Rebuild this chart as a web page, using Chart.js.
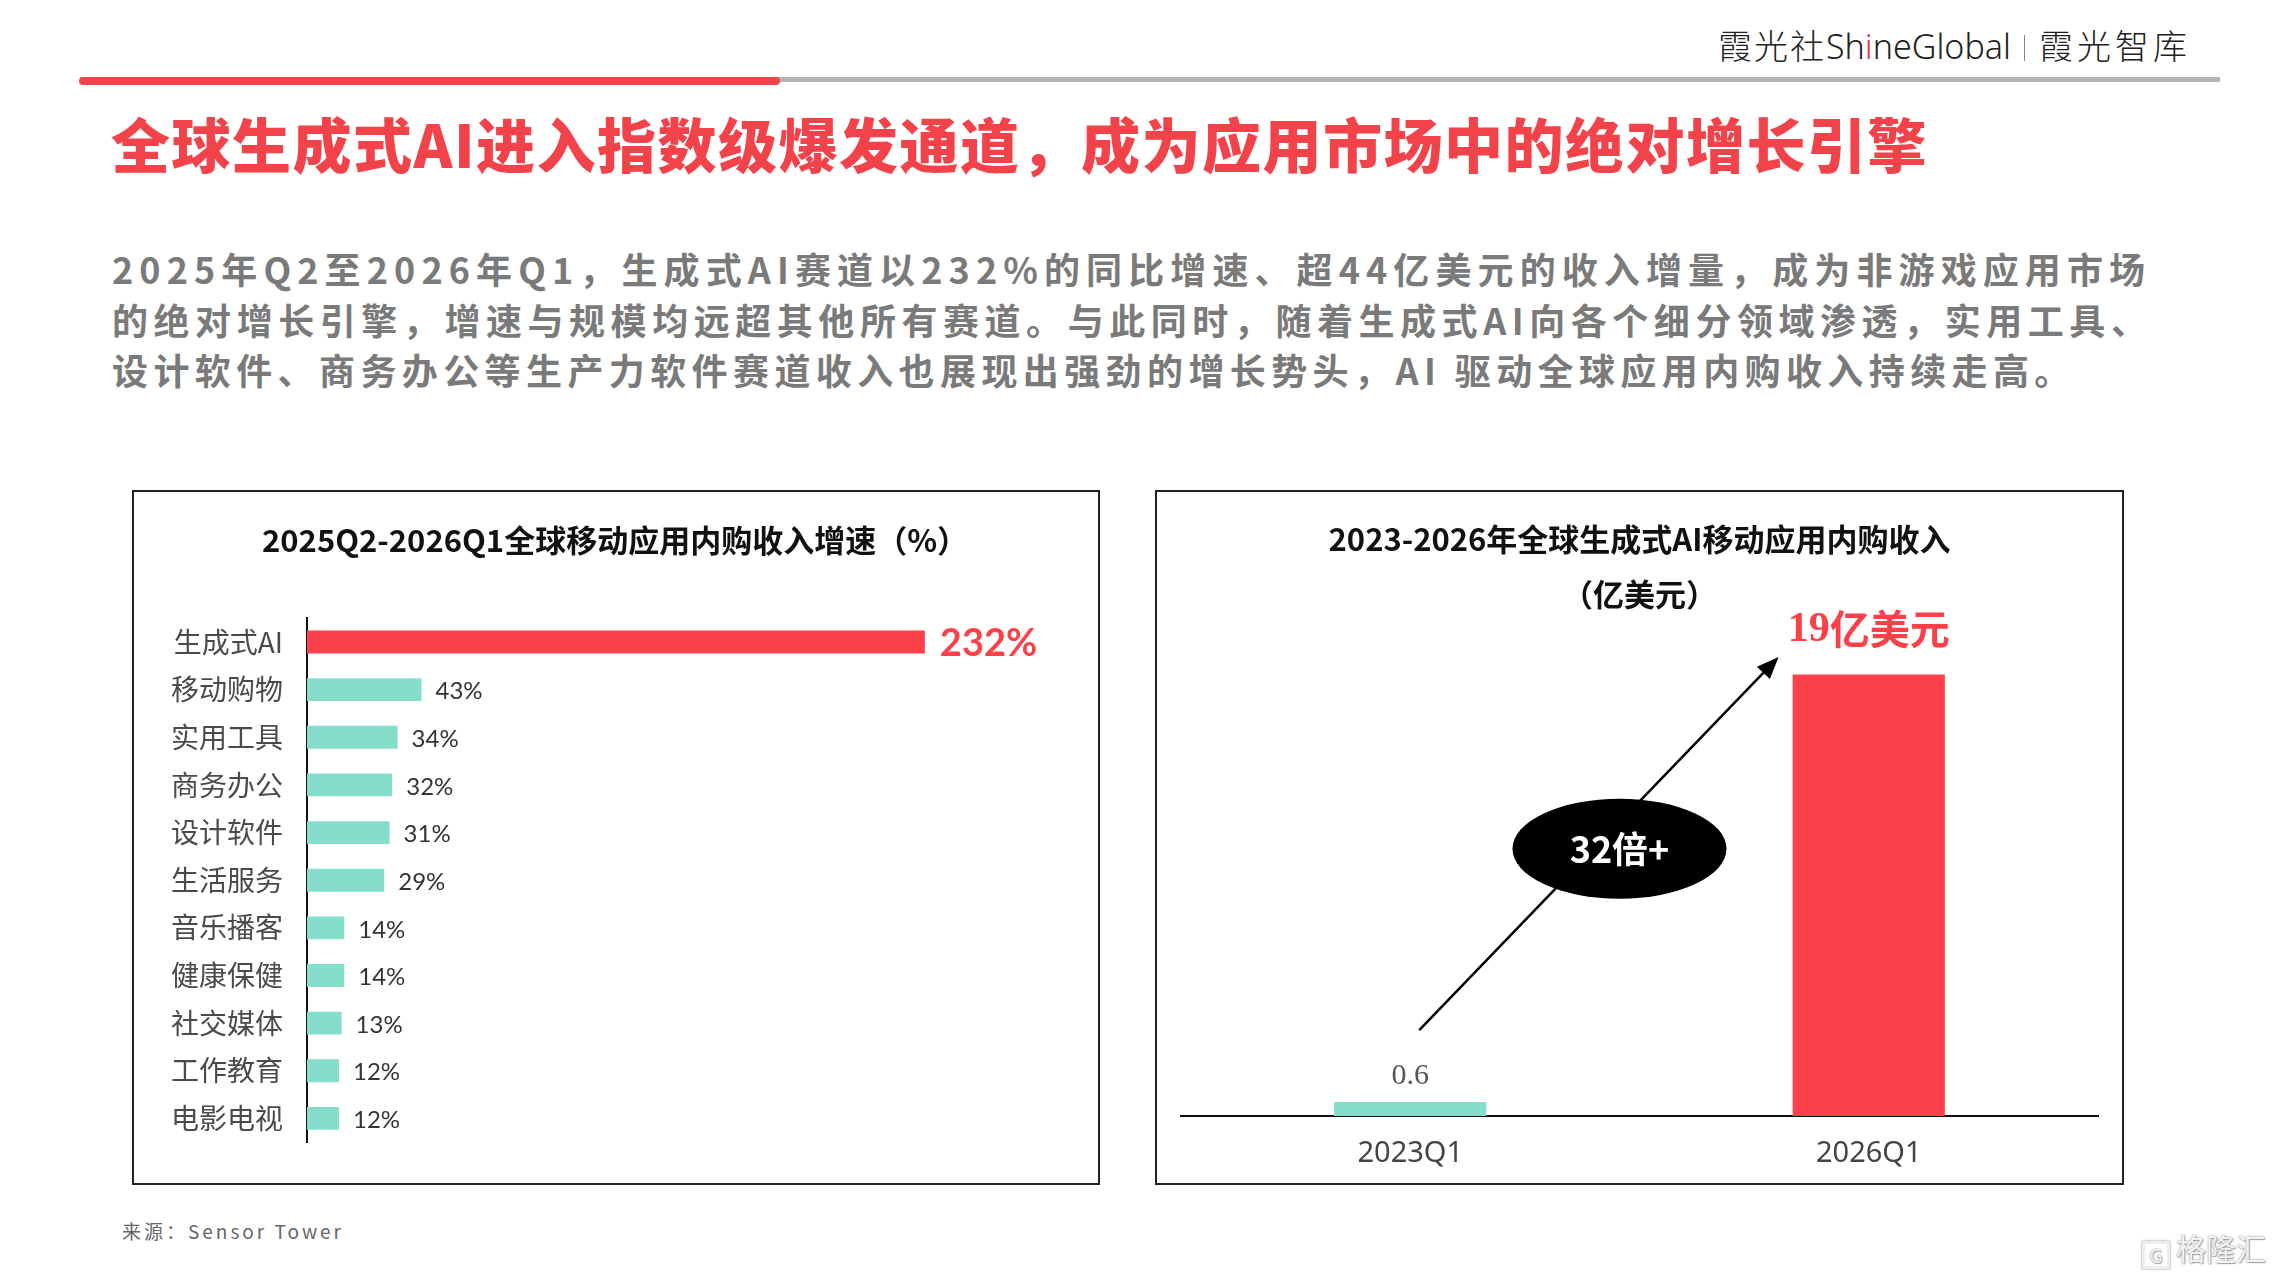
<!DOCTYPE html>
<html>
<head>
<meta charset="utf-8">
<script src="https://cdn.jsdelivr.net/npm/chart.js@4.4.1/dist/chart.umd.min.js"></script>
<style>
  body { margin: 0; background: #fff; }
  #page { position: relative; width: 2275px; height: 1279px; overflow: hidden; background: #fff;
          font-family: 'Noto Sans CJK SC', 'Noto Sans', sans-serif; }
  .abs { position: absolute; white-space: nowrap; line-height: 1; }
  .box { position: absolute; border: 2px solid #222; box-sizing: border-box; }
  .box canvas { display: block; }
</style>
</head>
<body>
<div id="page">
  <!-- header lines -->
  <div class="abs" style="left:80px; top:77px; width:2140px; height:5px; background:#b3b3b3;"></div>
  <div class="abs" style="left:79px; top:77px; width:701px; height:8px; border-radius:4px; background:#f2434a;"></div>

  <div class="abs" style="left:1718px; top:28px; font-size:34px; color:#222; font-weight:300;">
    <span style="letter-spacing:2px;">霞光社</span><span style="font-family:'Noto Sans', sans-serif;">Sh<span style="color:#e8383f;">i</span>neGlobal</span><span style="display:inline-block; width:1px; height:26px; background:#888; margin:0 14px 0 13px; vertical-align:-2px;"></span><span style="letter-spacing:4px;">霞光智库</span>
  </div>

  <div class="abs" style="left:111px; top:113px; font-size:59px; font-weight:900; color:#f2434a; letter-spacing:1.5px;">全球生成式AI进入指数级爆发通道，成为应用市场中的绝对增长引擎</div>

  <div class="abs" style="left:112px; top:250px; font-size:36px; font-weight:bold; color:#7a7a7a; letter-spacing:6.1px;">2025年Q2至2026年Q1，生成式AI赛道以232%的同比增速、超44亿美元的收入增量，成为非游戏应用市场</div>
  <div class="abs" style="left:112px; top:301px; font-size:36px; font-weight:bold; color:#7a7a7a; letter-spacing:5.55px;">的绝对增长引擎，增速与规模均远超其他所有赛道。与此同时，随着生成式AI向各个细分领域渗透，实用工具、</div>
  <div class="abs" style="left:112px; top:351px; font-size:36px; font-weight:bold; color:#7a7a7a; letter-spacing:5.4px;">设计软件、商务办公等生产力软件赛道收入也展现出强劲的增长势头，AI 驱动全球应用内购收入持续走高。</div>

  <div class="box" style="left:132px; top:490px; width:968px; height:695px;">
    <canvas id="growth" width="964" height="691"></canvas>
  </div>
  <div class="box" style="left:1155px; top:490px; width:969px; height:695px;">
    <canvas id="revenue" width="965" height="691"></canvas>
  </div>

  <div class="abs" style="left:122px; top:1221px; font-size:19px; color:#666; letter-spacing:3px;">来源：Sensor Tower</div>

  <div class="abs" style="left:2142px; top:1232px; font-size:30px; color:#f2f2f2; text-shadow:0 0 2px #888, 1px 1px 1px #aaa;">
    <span style="display:inline-block; width:28px; height:28px; border:3px solid #eee; box-shadow:0 0 2px #888; box-sizing:border-box; font-size:19px; text-align:center; line-height:22px; vertical-align:-3px; margin-right:6px;">G</span>格隆汇
  </div>
</div>

<script>
const RED = '#fb4049';
const TEAL = '#85ddcb';
const CJK = "'Noto Sans CJK SC', 'Noto Sans', sans-serif";

// left chart: growth rate by category
const growthCats = ['生成式AI', '移动购物', '实用工具', '商务办公', '设计软件', '生活服务', '音乐播客', '健康保健', '社交媒体', '工作教育', '电影电视'];
const growthVals = [232, 43, 34, 32, 31, 29, 14, 14, 13, 12, 12];
const growthMax = 282;

// right chart: generative AI revenue (亿美元)
const revCats = ['2023Q1', '2026Q1'];
const revVals = [0.6, 19];
const revMax = 21;

const growthLabels = {
  id: 'growthLabels',
  afterDatasetsDraw(chart) {
    const ctx = chart.ctx;
    chart.getDatasetMeta(0).data.forEach((bar, i) => {
      ctx.save();
      ctx.textBaseline = 'middle';
      if (i === 0) {
        ctx.font = "bold 38px Lato, 'Noto Sans', sans-serif";
        ctx.fillStyle = RED;
        ctx.fillText(growthVals[i] + '%', bar.x + 15, bar.y + 2);
      } else {
        ctx.font = "24px Lato, 'Noto Sans', sans-serif";
        ctx.fillStyle = '#333';
        ctx.fillText(growthVals[i] + '%', bar.x + 14, bar.y + 2);
      }
      ctx.restore();
    });
  }
};

new Chart(document.getElementById('growth'), {
  type: 'bar',
  data: {
    labels: growthCats,
    datasets: [{
      data: growthVals,
      backgroundColor: growthVals.map((v, i) => i === 0 ? RED : TEAL),
      barPercentage: 0.48,
      categoryPercentage: 1
    }]
  },
  options: {
    indexAxis: 'y',
    responsive: false,
    animation: false,
    layout: { padding: { left: 38, right: 40, top: 30, bottom: 36 } },
    plugins: {
      legend: { display: false },
      tooltip: { enabled: false },
      title: {
        display: true,
        text: '2025Q2-2026Q1全球移动应用内购收入增速（%）',
        color: '#111',
        font: { family: CJK, size: 31, weight: 'bold' },
        padding: { top: 0, bottom: 59 }
      }
    },
    scales: {
      x: { display: false, min: 0, max: growthMax },
      y: {
        grid: { display: false, drawTicks: false },
        border: { display: true, color: '#111', width: 2 },
        ticks: { color: '#4a4a4a', font: { family: CJK, size: 28 }, padding: 24 },
        afterFit(scale) { scale.width = 135; }
      }
    }
  },
  plugins: [growthLabels]
});

const revenueMarks = {
  id: 'revenueMarks',
  afterDatasetsDraw(chart) {
    const ctx = chart.ctx;
    const bars = chart.getDatasetMeta(0).data;
    const ys = chart.scales.y;
    const b0 = bars[0], b1 = bars[1];
    ctx.save();

    // value labels
    ctx.textAlign = 'center';
    ctx.textBaseline = 'middle';
    ctx.font = "30px 'Liberation Serif', serif";
    ctx.fillStyle = '#555';
    ctx.fillText(String(revVals[0]), b0.x, b0.y - 26);

    const numTxt = String(revVals[1]);
    const unitTxt = '亿美元';
    ctx.font = "bold 42px 'Liberation Serif', serif";
    const w1 = ctx.measureText(numTxt).width;
    ctx.font = 'bold 40px ' + CJK;
    const w2 = ctx.measureText(unitTxt).width;
    let sx = b1.x - (w1 + w2) / 2;
    ctx.textAlign = 'left';
    ctx.fillStyle = RED;
    ctx.font = "bold 42px 'Liberation Serif', serif";
    ctx.fillText(numTxt, sx, b1.y - 44);
    ctx.font = 'bold 40px ' + CJK;
    ctx.fillText(unitTxt, sx + w1, b1.y - 46);

    // arrow
    const x0 = b0.x + 9, y0 = ys.getPixelForValue(3.7);
    const x1 = b1.x - b1.width / 2 - 14, y1 = ys.getPixelForValue(19.75);
    const ang = Math.atan2(y1 - y0, x1 - x0);
    const head = 22;
    ctx.strokeStyle = '#000';
    ctx.lineWidth = 2.5;
    ctx.beginPath();
    ctx.moveTo(x0, y0);
    ctx.lineTo(x1 - Math.cos(ang) * head * 0.8, y1 - Math.sin(ang) * head * 0.8);
    ctx.stroke();
    ctx.fillStyle = '#000';
    ctx.beginPath();
    ctx.moveTo(x1, y1);
    ctx.lineTo(x1 - head * Math.cos(ang) + 9 * Math.sin(ang), y1 - head * Math.sin(ang) - 9 * Math.cos(ang));
    ctx.lineTo(x1 - head * Math.cos(ang) - 9 * Math.sin(ang), y1 - head * Math.sin(ang) + 9 * Math.cos(ang));
    ctx.closePath();
    ctx.fill();

    // multiple badge
    const cx = (b0.x + b1.x) / 2 - 20, cy = ys.getPixelForValue(11.5);
    ctx.beginPath();
    ctx.ellipse(cx, cy, 107, 50, 0, 0, Math.PI * 2);
    ctx.fill();
    ctx.fillStyle = '#fff';
    ctx.textAlign = 'center';
    ctx.font = 'bold 36px ' + CJK;
    ctx.fillText('32倍+', cx, cy + 1);
    ctx.restore();
  }
};

new Chart(document.getElementById('revenue'), {
  type: 'bar',
  data: {
    labels: revCats,
    datasets: [{
      data: revVals,
      backgroundColor: [TEAL, RED],
      barPercentage: 0.332,
      categoryPercentage: 1
    }]
  },
  options: {
    responsive: false,
    animation: false,
    layout: { padding: { left: 24, right: 24, top: 20, bottom: 12 } },
    plugins: {
      legend: { display: false },
      tooltip: { enabled: false },
      title: {
        display: true,
        text: ['2023-2026年全球生成式AI移动应用内购收入', '（亿美元）'],
        color: '#111',
        font: { family: CJK, size: 31, weight: 'bold', lineHeight: 1.774 },
        padding: { top: 0, bottom: 6 }
      }
    },
    scales: {
      y: { display: false, min: 0, max: revMax },
      x: {
        grid: { display: false, drawTicks: false },
        border: { display: true, color: '#111', width: 2 },
        ticks: { color: '#444', font: { family: "'Noto Sans', sans-serif", size: 29 }, padding: 20 },
        afterFit(scale) { scale.height = 55; }
      }
    }
  },
  plugins: [revenueMarks]
});
</script>
</body>
</html>
